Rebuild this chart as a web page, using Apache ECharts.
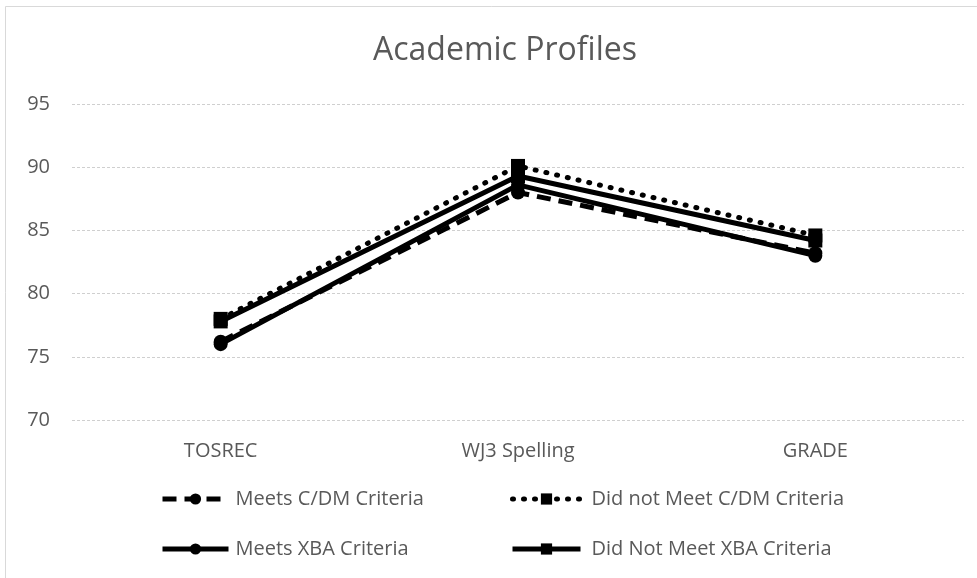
<!DOCTYPE html>
<html>
<head>
<meta charset="utf-8">
<script src="https://cdn.jsdelivr.net/npm/echarts@6/dist/echarts.min.js"></script>
<style>html,body{margin:0;padding:0;background:#fff}#c{width:977px;height:578px}</style>
</head>
<body>
<div id="c"></div>
<script>
const categories = ['TOSREC', 'WJ3 Spelling', 'GRADE'];
const meetsCDM = [76.2, 88.0, 83.2];
const notMeetCDM = [78.0, 90.1, 84.6];
const meetsXBA = [76.0, 88.6, 83.0];
const notMeetXBA = [77.8, 89.3, 84.2];
const yTicks = [70, 75, 80, 85, 90, 95];

const font = '"Open Sans", "Noto Sans", sans-serif';
const grey = '#595959';
const chart = echarts.init(document.getElementById('c'));
function s(name, data, symbol, type, cap) {
  return {
    name, type: 'line', data, symbol, symbolSize: 14,
    itemStyle: { color: '#000' },
    lineStyle: { color: '#000', width: 5, type, cap: cap || 'butt' },
    z: 2
  };
}
const legendText = { fontFamily: font, fontSize: 20, color: grey };
chart.setOption({
  animation: false,
  backgroundColor: '#fff',
  title: { text: 'Academic Profiles', left: 500, textAlign: 'center', top: 30,
    textStyle: { fontFamily: font, fontSize: 32, fontWeight: 'normal', color: grey } },
  graphic: [{ type: 'rect', shape: { x: 5.5, y: 6.5, width: 1000, height: 600 },
    style: { fill: 'none', stroke: '#d9d9d9', lineWidth: 1 }, silent: true }],
  grid: { left: 72, right: 13, top: 104, bottom: 158 },
  xAxis: { type: 'category', data: categories,
    axisLine: { show: false }, axisTick: { show: false },
    axisLabel: { margin: 21, fontFamily: font, fontSize: 20, color: grey } },
  yAxis: { type: 'value', min: yTicks[0], max: yTicks[yTicks.length - 1], interval: 5,
    axisLine: { show: false }, axisTick: { show: false },
    splitLine: { lineStyle: { color: '#cfcfcf', type: [3, 2], width: 1 } },
    axisLabel: { margin: 22, fontFamily: font, fontSize: 20, color: grey } },
  legend: [
    { orient: 'vertical', left: 155, top: 484, itemGap: 30, itemWidth: 66, itemHeight: 14,
      lineStyle: { width: 5 },
      data: ['Meets C/DM Criteria', 'Meets XBA Criteria'],
      textStyle: Object.assign({ padding: [0, 0, 0, 2] }, legendText) },
    { orient: 'vertical', left: 505, top: 484, itemGap: 30, itemWidth: 68, itemHeight: 14,
      lineStyle: { width: 5 },
      data: ['Did not Meet C/DM Criteria', 'Did Not Meet XBA Criteria'],
      textStyle: Object.assign({ padding: [0, 0, 0, 6] }, legendText) }
  ],
  series: [
    s('Meets C/DM Criteria', meetsCDM, 'circle', [14, 8]),
    s('Did not Meet C/DM Criteria', notMeetCDM, 'rect', [1, 10], 'round'),
    s('Meets XBA Criteria', meetsXBA, 'circle', 'solid'),
    s('Did Not Meet XBA Criteria', notMeetXBA, 'rect', 'solid')
  ]
});
</script>
</body>
</html>
